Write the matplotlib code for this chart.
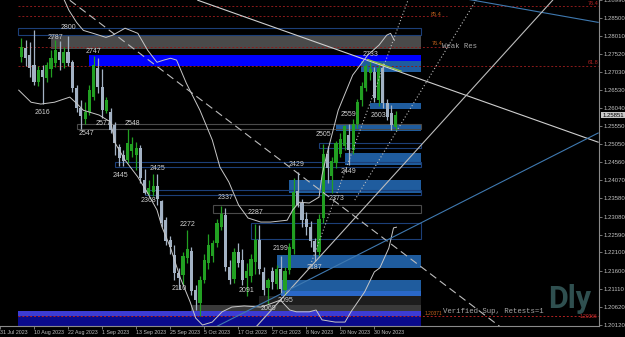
import matplotlib
matplotlib.use('Agg')
import matplotlib.pyplot as plt
from matplotlib.patches import Rectangle
from matplotlib.transforms import blended_transform_factory
import numpy as np

# ---------------- data (GBPUSD daily) ----------------
bar_index = list(range(-3, 86))  # 0 = 10 Aug 2023
opens = [1.2743,1.2767,1.2748,1.2722,1.2675,1.2707,1.2686,1.2712,1.2727,1.2757,1.2727,1.2756,1.2729,1.2658,1.2604,
         1.2573,1.2593,1.2634,1.2713,1.2661,1.2597,1.2593,1.2557,1.2497,1.2476,1.2462,1.2488,1.2476,1.2494,1.2407,
         1.2370,1.2374,1.2391,1.2350,1.2298,1.2245,1.2203,1.2154,1.2148,1.2196,1.2215,1.2107,1.2072,1.2135,1.2182,
         1.2200,1.2236,1.2280,1.2313,1.2170,1.2138,1.2211,1.2190,1.2140,1.2145,1.2185,1.2244,1.2157,1.2113,1.2160,
         1.2125,1.2165,1.2108,1.2162,1.2220,1.2378,1.2345,1.2300,1.2280,1.2240,1.2210,1.2305,1.2480,1.2420,1.2453,
         1.2480,1.2500,1.2530,1.2490,1.2560,1.2625,1.2660,1.2700,1.2702,1.2626,1.2713,1.2617,1.2590,1.2552]
highs = [1.2795,1.2790,1.2784,1.2818,1.2718,1.2722,1.2729,1.2762,1.2789,1.2787,1.2770,1.2800,1.2735,1.2666,1.2626,
         1.2620,1.2666,1.2747,1.2740,1.2712,1.2635,1.2605,1.2565,1.2506,1.2490,1.2548,1.2525,1.2511,1.2502,1.2437,
         1.2407,1.2425,1.2424,1.2353,1.2308,1.2255,1.2230,1.2168,1.2210,1.2272,1.2225,1.2120,1.2146,1.2205,1.2260,
         1.2245,1.2300,1.2337,1.2330,1.2190,1.2222,1.2235,1.2220,1.2180,1.2205,1.2287,1.2285,1.2170,1.2140,1.2170,
         1.2175,1.2199,1.2170,1.2235,1.2412,1.2429,1.2355,1.2320,1.2295,1.2250,1.2315,1.2505,1.2500,1.2470,1.2515,
         1.2535,1.2559,1.2560,1.2575,1.2630,1.2675,1.2725,1.2733,1.2715,1.2727,1.2727,1.2628,1.2612,1.2595]
lows = [1.2729,1.2718,1.2688,1.2667,1.2664,1.2616,1.2675,1.2690,1.2716,1.2707,1.2713,1.2718,1.2647,1.2593,1.2547,
        1.2560,1.2585,1.2625,1.2645,1.2577,1.2590,1.2536,1.2476,1.2445,1.2446,1.2455,1.2470,1.2435,1.2400,1.2370,
        1.2368,1.2365,1.2339,1.2280,1.2231,1.2205,1.2135,1.2110,1.2120,1.2180,1.2095,1.2052,1.2037,1.2128,1.2165,
        1.2185,1.2225,1.2270,1.2160,1.2123,1.2128,1.2170,1.2120,1.2091,1.2130,1.2150,1.2150,1.2095,1.2069,1.2110,
        1.2110,1.2100,1.2095,1.2150,1.2205,1.2335,1.2280,1.2258,1.2225,1.2187,1.2200,1.2290,1.2400,1.2373,1.2440,
        1.2470,1.2490,1.2449,1.2480,1.2550,1.2610,1.2650,1.2680,1.2620,1.2610,1.2603,1.2572,1.2545,1.2545]
closes = [1.2770,1.2740,1.2713,1.2676,1.2707,1.2690,1.2721,1.2740,1.2762,1.2735,1.2757,1.2726,1.2658,1.2604,1.2582,
          1.2594,1.2653,1.2721,1.2661,1.2598,1.2625,1.2544,1.2508,1.2467,1.2460,1.2508,1.2505,1.2494,1.2413,1.2372,
          1.2386,1.2391,1.2355,1.2291,1.2240,1.2225,1.2154,1.2140,1.2200,1.2220,1.2105,1.2080,1.2135,1.2189,1.2230,
          1.2236,1.2290,1.2315,1.2170,1.2136,1.2210,1.2181,1.2135,1.2160,1.2192,1.2244,1.2165,1.2107,1.2135,1.2130,
          1.2165,1.2110,1.2160,1.2225,1.2375,1.2340,1.2298,1.2280,1.2240,1.2210,1.2300,1.2480,1.2440,1.2460,1.2508,
          1.2520,1.2555,1.2489,1.2560,1.2620,1.2665,1.2720,1.2712,1.2631,1.2713,1.2617,1.2579,1.2557,1.2585]
current_price = 1.25851

date_ticks = [-8, 0, 8, 16, 24, 32, 40, 48, 56, 64, 72, 80]
date_labels = ['31 Jul 2023', '10 Aug 2023', '22 Aug 2023', '1 Sep 2023', '13 Sep 2023', '25 Sep 2023',
               '5 Oct 2023', '17 Oct 2023', '27 Oct 2023', '8 Nov 2023', '20 Nov 2023', '30 Nov 2023']
price_ticks = [1.28990, 1.28500, 1.28010, 1.27520, 1.27030, 1.26530, 1.26040, 1.25550, 1.25050, 1.24560,
               1.24070, 1.23580, 1.23080, 1.22590, 1.22100, 1.21600, 1.21110, 1.20620, 1.20120]

# smooth band indicator (bar index, price)
upper_x = [6.6, 8.2, 10.0, 11.6, 13.9, 16.9, 18.5, 21.4, 24.4, 26.7, 28.9, 30.5, 32.1, 33.5, 35.8, 39.0, 41.9, 43.7,
           45.8, 48.1, 50.3, 53.3, 55.6, 59.5, 60.8, 62.4, 64.7, 67.0, 67.7, 68.8, 71.5, 74.9, 78.4, 81.1, 82.9, 83.8, 84.7]
upper_p = [1.2912, 1.2871, 1.2838, 1.2816, 1.2808, 1.2797, 1.2803, 1.2822, 1.2808, 1.2762, 1.2729, 1.2735, 1.2740,
           1.2735, 1.2672, 1.2598, 1.2517, 1.2443, 1.2402, 1.2339, 1.2304, 1.2293, 1.2293, 1.2298, 1.2326, 1.2347,
           1.2345, 1.2361, 1.2421, 1.2476, 1.2598, 1.2694, 1.2748, 1.2776, 1.2803, 1.2808, 1.2789]
lower_x = [-3.6, -0.7, 1.6, 4.8, 8.4, 10.0, 11.6, 15.3, 18.0, 19.1, 21.4, 24.4, 26.7, 28.9, 30.1, 32.1, 34.4, 36.7,
           38.0, 39.6, 41.9, 44.2, 46.5, 49.4, 53.3, 54.9, 57.9, 60.1, 61.7, 64.7, 66.3, 67.7, 70.8, 73.1, 74.5, 77.7,
           80.0, 81.3, 83.4, 84.5, 85.2]
lower_p = [1.2653, 1.2620, 1.2615, 1.2620, 1.2634, 1.2617, 1.2598, 1.2585, 1.2566, 1.2508, 1.2462, 1.2416, 1.2372,
           1.2326, 1.2279, 1.2222, 1.2140, 1.2075, 1.2031, 1.2012, 1.2020, 1.2048, 1.2061, 1.2064, 1.2061, 1.2067,
           1.2080, 1.2053, 1.2048, 1.2048, 1.2053, 1.2026, 1.2020, 1.2020, 1.2048, 1.2102, 1.2157, 1.2168, 1.2222,
           1.2277, 1.2279]

# supply / demand zones: (start bar, end bar, low price, high price)
filled_zones = [
    (4.1, 90.9, 1.2765, 1.2800, '#4a4a4a'),
    (13.0, 90.9, 1.2718, 1.2748, '#0000ff'),
    (76.8, 90.9, 1.2702, 1.2732, '#1f5c9e'),
    (79.0, 90.9, 1.2601, 1.2617, '#1f5c9e'),
    (71.0, 90.9, 1.2541, 1.2560, '#1f5c9e'),
    (73.0, 90.9, 1.2448, 1.2481, '#1f5c9e'),
    (60.0, 90.9, 1.2372, 1.2407, '#1f5c9e'),
    (57.0, 90.9, 1.2167, 1.2203, '#1f5c9e'),
    (58.0, 90.9, 1.2105, 1.2135, '#1f5c9e'),
    (58.0, 90.9, 1.2091, 1.2105, '#2a68c8'),
    (53.0, 90.9, 1.2066, 1.2091, '#1d1d1d'),
    (37.0, 90.9, 1.2050, 1.2066, '#3a3a3a'),
    (-3.7, 90.9, 1.2037, 1.2050, '#3c3cd4'),
    (-3.7, 90.9, 1.2000, 1.2037, '#0a0a8c'),
]
outline_zones = [
    (-3.7, 90.9, 1.2803, 1.2822, '#1c3f78'),
    (10.0, 90.9, 1.2546, 1.2560, '#4a4a4a'),
    (67.0, 90.9, 1.2495, 1.2508, '#1c3f78'),
    (19.0, 90.9, 1.2443, 1.2456, '#1c3f78'),
    (26.0, 90.9, 1.2367, 1.2380, '#1c3f78'),
    (42.0, 90.9, 1.2317, 1.2339, '#4a4a4a'),
    (51.0, 90.9, 1.2247, 1.2290, '#1c3f78'),
]

# trend lines: ((bar, price), (bar, price), colour, style)
trend_lines = [
    ((8.4, 1.28983), (109.6, 1.2007), '#bdbdbd', (0, (7, 4))),
    ((38.5, 1.28983), (132.6, 1.2511), '#cfcfcf', '-'),
    ((78.4, 1.2737), (86.3, 1.2705), '#9acd32', '-'),
    ((96.6, 1.2912), (132.6, 1.2838), '#3f79b0', '-'),
    ((52.2, 1.2007), (121.9, 1.28983), '#bdbdbd', '-'),
    ((43.1, 1.2009), (132.6, 1.2536), '#3f79b0', '-'),
    ((64.7, 1.2167), (87.9, 1.28983), '#bdbdbd', (0, (1, 2))),
    ((75.4, 1.2353), (103.9, 1.28983), '#bdbdbd', (0, (1, 2))),
]

# zigzag swing labels: text, bar, price anchor
swing_text = ['2800', '2787', '2747', '2616', '2547', '2577', '2548', '2445', '2425', '2368', '2337', '2287', '2272',
              '2110', '2091', '2069', '2095', '2199', '2429', '2187', '2373', '2449', '2505', '2559', '2603', '2733']
swing_bar = [8.0, 5.1, 14.0, 2.0, 12.2, 16.2, 23.1, 20.2, 29.0, 27.0, 45.1, 52.0, 36.1, 34.0, 50.0, 55.0, 59.1, 58.0,
             61.8, 66.0, 71.0, 74.0, 68.0, 74.0, 81.0, 79.0]
swing_price = [1.2825, 1.2797, 1.2759, 1.2593, 1.2536, 1.2563, 1.2563, 1.2421, 1.2440, 1.2353, 1.2361, 1.2320, 1.2287,
               1.2113, 1.2105, 1.2056, 1.2080, 1.2222, 1.2451, 1.2168, 1.2358, 1.2432, 1.2533, 1.2587, 1.2585, 1.2751]

# ---------------- layout ----------------
W, H = 625, 337
X0, DX = 16.0, 4.39
P0, DP = 1.28983, 0.0002727

fig = plt.figure(figsize=(W / 100, H / 100), dpi=100, facecolor='black')
ax = fig.add_axes([0, 11 / H, 598.5 / W, 326 / H], facecolor='black')
ax.set_xlim((0 - X0) / DX, (598.5 - X0) / DX)
ax.set_ylim(P0 - DP * 326, P0)

# zones
for x0, x1, p0, p1, col in filled_zones:
    ax.add_patch(Rectangle((x0, p0), x1 - x0, p1 - p0, facecolor=col, edgecolor='none', zorder=1))
for x0, x1, p0, p1, col in outline_zones:
    ax.add_patch(Rectangle((x0, p0), x1 - x0, p1 - p0, facecolor='none', edgecolor=col, lw=0.8, zorder=1.2))

# candles
bw = 0.74
for i, o, h, l, c in zip(bar_index, opens, highs, lows, closes):
    col = '#22a022' if c >= o else '#a3b2c4'
    ax.vlines(i, l, h, color=col, lw=0.9, zorder=3)
    ax.add_patch(Rectangle((i - bw / 2, min(o, c)), bw, max(abs(c - o), 0.00008), facecolor=col,
                           edgecolor='none', zorder=3))

# band indicator
ax.plot(upper_x, upper_p, color='#c8c8c8', lw=0.7, zorder=4)
ax.plot(lower_x, lower_p, color='#c8c8c8', lw=0.7, zorder=4)

# trend lines
for (xa, pa), (xb, pb), col, ls in trend_lines:
    ax.plot([xa, xb], [pa, pb], color=col, lw=0.8, ls=ls, zorder=5)

# fib levels
for p, x1, col in [(1.28819, 132.6, '#8b1a1a'), (1.28555, 97.0, '#8b1a1a'), (1.27709, 97.0, '#8b1a1a'),
                   (1.27191, 132.6, '#8b1a1a'), (1.20371, 132.6, '#b22222')]:
    ax.plot([-3.7, x1], [p, p], color=col, lw=0.7, ls=(0, (2, 2)), zorder=2)
fib_font = dict(fontsize=4.0, family='Liberation Sans', zorder=6)
ax.text(94.5, 1.2860, '85.4', color='#c8641e', ha='center', va='center', **fib_font)
ax.text(94.7, 1.2781, '76.4', color='#c8641e', ha='center', va='center', **fib_font)
ax.text(131.5, 1.2890, '76.4', color='#b22222', ha='center', va='center', **fib_font)
ax.text(131.5, 1.2729, '61.8', color='#b22222', ha='center', va='center', **fib_font)
small = dict(fontsize=3.5, family='Liberation Sans', zorder=6)
ax.text(95.9, 1.2044, '1.20371', color='#c8641e', ha='right', va='center', **small)
ax.text(132.4, 1.2034, '1.20366', color='#d03030', ha='right', va='center', **small)

# zone texts
mono = dict(family='Liberation Mono', fontsize=5.3, color='#a8a8a8', zorder=6)
ax.text(96.0, 1.2773, 'Weak Res', ha='left', va='center', **mono)
ax.text(96.2, 1.2050, 'Verified Sup, Retests=1', ha='left', va='center', **mono)

# swing labels
for t, b, p in zip(swing_text, swing_bar, swing_price):
    ax.text(b, p, t, color='#cfcfcf', fontsize=5.0, family='Liberation Sans', ha='center', va='center', zorder=6)

# timeframe watermark
ax.text(120.9, 1.2058, 'Dly', color='#2f4f4f', fontsize=22, fontweight='bold',
        family=['Roboto', 'DejaVu Sans'], ha='left', va='baseline', zorder=2)

# axes styling
for s in ['top', 'left']:
    ax.spines[s].set_visible(False)
for s in ['right', 'bottom']:
    ax.spines[s].set_color('#8a8a8a')
    ax.spines[s].set_linewidth(0.8)
ax.yaxis.tick_right()
ax.set_yticks(price_ticks)
ax.set_yticklabels([f'{p:.5f}' for p in price_ticks])
ax.set_xticks(date_ticks)
ax.set_xticklabels(date_labels, ha='left')
ax.tick_params(axis='y', colors='#8a8a8a', labelcolor='#c0c0c0', labelsize=4.3, length=2, width=0.6, pad=1.5)
ax.tick_params(axis='x', colors='#8a8a8a', labelcolor='#c0c0c0', labelsize=3.8, length=2, width=0.6, pad=0.8)
for lab in ax.get_xticklabels() + ax.get_yticklabels():
    lab.set_family('Liberation Sans')

# current price box
tr = blended_transform_factory(ax.transAxes, ax.transData)
ax.text(1.006, current_price, f'{current_price:.5f}', transform=tr, fontsize=4.3, family='Liberation Sans',
        color='black', ha='left', va='center', clip_on=False, zorder=7,
        bbox=dict(boxstyle='square,pad=0.15', facecolor='#c8c8c8', edgecolor='none'))

fig.savefig('out.png', dpi=100, facecolor='black')
